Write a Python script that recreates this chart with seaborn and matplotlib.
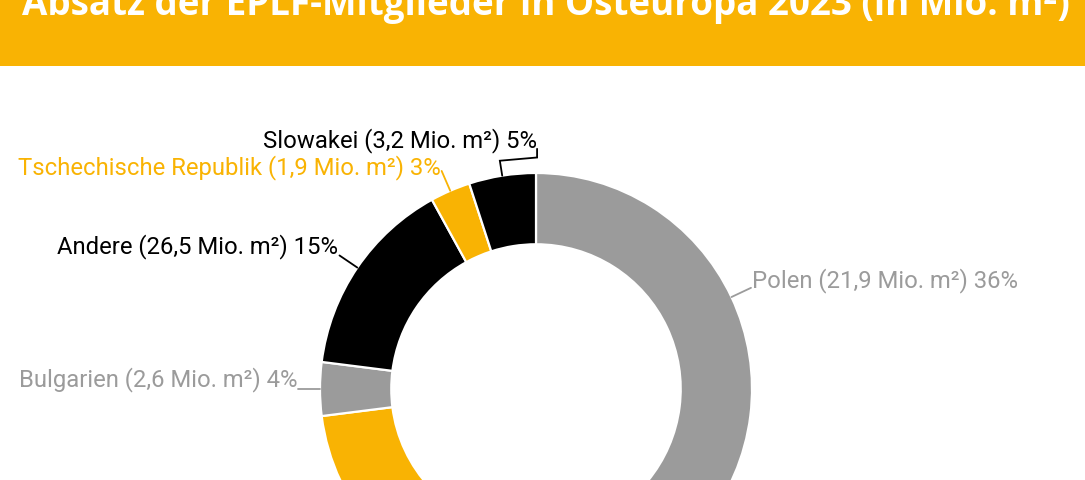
import numpy as np
import matplotlib.pyplot as plt
import seaborn as sns
from matplotlib.patches import Rectangle

# Data (clockwise from 12 o'clock); the two slices below the crop are estimates
labels = ["Polen", "", "", "Bulgarien", "Andere", "Tschechische Republik", "Slowakei"]
volumes = ["21,9", "", "", "2,6", "26,5", "1,9", "3,2"]
shares = [36, 17, 20, 4, 15, 3, 5]

YELLOW = "#F9B303"
GRAY = "#9B9B9B"
BLACK = "#000000"
colors = [GRAY, BLACK, YELLOW, GRAY, BLACK, YELLOW, BLACK]

sns.set_theme(style="white")
plt.rcParams["font.family"] = ["Roboto", "DejaVu Sans"]

W, H = 1085, 481
fig = plt.figure(figsize=(W / 100, H / 100), dpi=100)
ax = fig.add_axes([0, 0, 1, 1])

wedges, _ = ax.pie(shares, colors=colors, startangle=90, counterclock=False,
                   radius=1.0, wedgeprops=dict(width=0.33, edgecolor="white", linewidth=1.6))
for w in wedges:
    w.set_clip_on(False)

# donut centre and radius in pixels -> data units (radius = 1)
cx, cy, R = 536, 390, 216
ax.set_aspect("auto")
ax.set_xlim(-cx / R, (W - cx) / R)
ax.set_ylim((cy - H) / R, cy / R)
ax.set_axis_off()

LBL = 17.2
# small vertical nudges so labels sit like the original
nudge = {"Tschechische Republik": -0.025, "Polen": -0.01}

for w, lab, vol, sh, col in zip(wedges, labels, volumes, shares, colors):
    if not lab:
        continue
    mid = np.deg2rad((w.theta1 + w.theta2) / 2)
    x0, y0 = np.cos(mid), np.sin(mid)
    txt = f"{lab} ({vol} Mio. m²) {sh}%"
    if lab == "Slowakei":
        x1, y1 = 1.07 * x0, 1.07 * y0
        xs = [x0, x1, 0.005, 0.005]
        ys = [y0, y1, y1 + 0.015, y1 + 0.055]
        ax.plot(xs, ys, color=col, lw=1.3, solid_joinstyle="miter")
        ax.text(0.005, y1 + 0.065, txt, ha="right", va="baseline", color=col, fontsize=LBL)
        continue
    x1, y1 = 1.1 * x0, 1.1 * y0
    ax.plot([x0, x1], [y0, y1], color=col, lw=1.3)
    ha = "left" if x0 > 0 else "right"
    dx = 0.005 if x0 > 0 else -0.005
    ax.text(x1 + dx, y1 + 0.015 + nudge.get(lab, 0), txt, ha=ha, va="baseline",
            color=col, fontsize=LBL)

# title banner
fig.patches.append(Rectangle((0, 1 - 67 / H), 1, 67 / H, transform=fig.transFigure,
                             facecolor=YELLOW, edgecolor="none", zorder=0))
fig.text(22 / W, 1 - 15 / H, "Absatz der EPLF-Mitglieder in Osteuropa 2023 (in Mio. m²)",
         color="white", fontsize=26.5, fontweight="bold", family=["Open Sans", "DejaVu Sans"],
         ha="left", va="baseline")

fig.savefig("out.png", dpi=100)
